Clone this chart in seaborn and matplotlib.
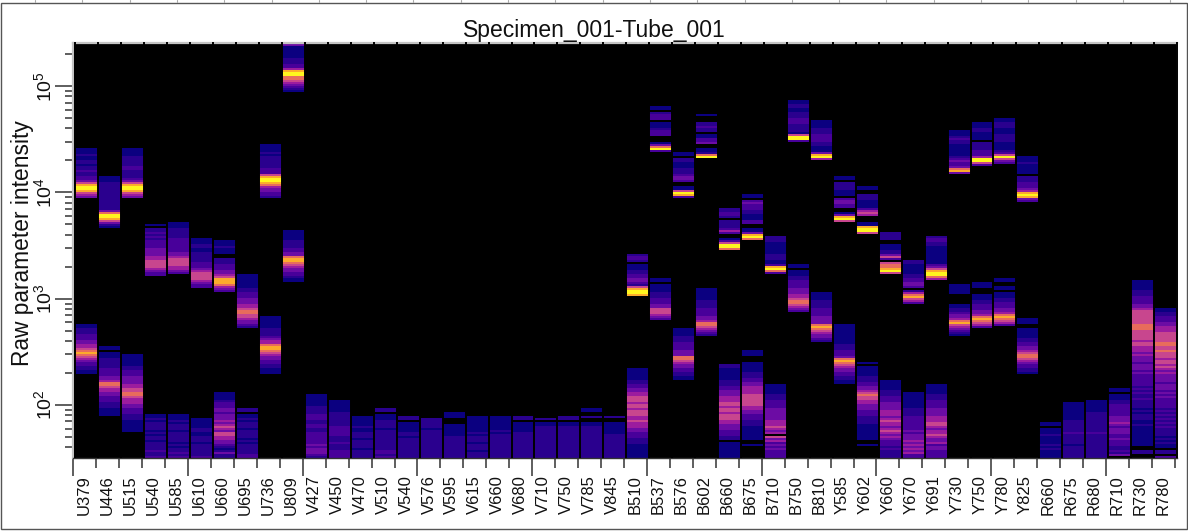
import numpy as np
import matplotlib
matplotlib.use("Agg")
import matplotlib.pyplot as plt
from matplotlib.colors import ListedColormap
from matplotlib.lines import Line2D
from matplotlib.patches import Rectangle
from matplotlib.transforms import ScaledTranslation
import seaborn as sns

TITLE = "Specimen_001-Tube_001"
Y_LABEL = "Raw parameter intensity"

CHANNELS = ["U379","U446","U515","U540","U585","U610","U660","U695","U736","U809",
            "V427","V450","V470","V510","V540","V576","V595","V615","V660","V680",
            "V710","V750","V785","V845",
            "B510","B537","B576","B602","B660","B675","B710","B750","B810",
            "Y585","Y602","Y660","Y670","Y691","Y730","Y750","Y780","Y825",
            "R660","R675","R680","R710","R730","R780"]

# Each channel: list of (top bin, density read per bin from top to bottom; 0 none ... 9 peak)
U_BANDS = [
    [(155,"1112112212232233468998654"),(67,"1122233344556787654332211")],
    [(141,"11122222222222222479986421"),(56,"11"),(53,"11122222333344577655443332221111")],
    [(155,"1111222223322223468998654"),(52,"111111223334444556677655544333222111111")],
    [(117,"1"),(115,"223232333344445566665433"),(22,"1121222212122122223223")],
    [(118,"11122222333333344566665543"),(22,"1112122212222212122323")],
    [(110,"1112211222223334566665433"),(20,"11111221122212222223")],
    [(109,"1112111"),(100,"22233344568887543"),(33,"111123334434445456546655443212422")],
    [(92,"111111122333444556776654432"),(25,"22"),(22,"1121222122221212222233")],
    [(157,"111121222222333689987544332"),(71,"11"),(69,"111122223455788765443322111")],
    [(207,"411111122233589977654321"),(114,"11111222233447887654433211")],
]
V_BANDS = [
    [(32,"1111112222333223322333333434443232")],
    [(29,"11111122222223333322232223333232")],
    [(21,"11111211222122221222222")],
    [(25,"22"),(22,"11122221222222222233233")],
    [(21,"22"),(18,"1111122122222222222")],
    [(20,"222"),(17,"22122222222222222")],
    [(23,"111"),(17,"11111122222222222")],
    [(21,"1111111121222122212222")],
    [(21,"1111111212222222222221")],
    [(21,"22"),(18,"1111122222222222221")],
    [(20,"2"),(18,"1122222222222222222")],
    [(21,"22"),(18,"1122222222222222223")],
    [(25,"11"),(21,"2"),(18,"11222222222222222223")],
    [(21,"2"),(18,"11111122222222222222")],
]
B_BANDS = [
    [(102,"233201112233443268998"),(45,"1111112233445566656656665565554433322211"),(5,"11111")],
    [(176,"11"),(173,"2333"),(168,"1112333"),(158,"14793"),(90,"11"),(87,"111122233344666543")],
    [(153,"11"),(150,"2211122"),(143,"23443"),(136,"116983"),(65,"11112223333444776544332211")],
    [(172,"1"),(168,"22322"),(162,"11334"),(155,"11279"),(85,"111111222233334457765432")],
    [(125,"22332"),(119,"2222353"),(110,"136997"),(47,"22"),(45,"111111222334445556656656665544433322 111"),(5,"11111")],
    [(132,"11"),(129,"343332211133"),(115,"114897"),(54,"111"),(48,"111112223344555566666655443332221111111"),(7,"1")],
    [(111,"222111111222"),(99,"1138973"),(37,"1111122233334444445556545 645343433332322")],
    [(179,"112211222333222216993"),(97,"11"),(94,"111223333444556776543")],
    [(169,"11112223333221114895"),(83,"1111222233334444787654432")],
]
Y_BANDS = [
    [(141,"11"),(138,"2222111"),(130,"34433"),(123,"14896"),(67,"111111111122233347876544332211")],
    [(136,"11"),(132,"2221111"),(125,"3565"),(118,"118996"),(48,"1"),(46,"1111122233445676655444333222211111111"),(7,"1")],
    [(113,"2222"),(107,"11122463"),(98,"677896"),(39,"1111122233344445554565545654543332322222")],
    [(99,"22111112233443"),(84,"2578653"),(33,"111111112222333333343444545454533322")],
    [(111,"2332211111111134689975"),(37,"11111222333344445556654556544534433332222")],
    [(164,"11123221111"),(153,"11234334784"),(87,"11111"),(77,"1122344578654321")],
    [(168,"111221111"),(158,"222233359963"),(88,"111"),(82,"11122333445787653")],
    [(170,"11222111222211112369643"),(90,"11"),(86,"11"),(83,"11122333445787653")],
    [(151,"111211111"),(141,"2223334589843"),(70,"111"),(65,"11111223344567765433221")],
]
R_BANDS = [
    [(18,"11"),(15,"111211112121111")],
    [(28,"11111111122222232222212222223")],
    [(29,"11111122222222223222222222222")],
    [(35,"11"),(32,"1112233333344454344433433322324")],
    [(89,"1111122"+"2333"+"3445"+"666666"+"67776"+"6666"+"566555"+"454443444343333"+"3323232232"+"22212122211211111"+"11111"),(4,"22")],
    [(75,"11223"+"3344555"+"6666677"+"66766"+"6566565"+"4544443444343433"+"3332323232323"+"2222121211"),(4,"22"),(1,"3")],
]
BANDS = U_BANDS + V_BANDS + B_BANDS + Y_BANDS + R_BANDS

DENSITY_COLORS = ["#000000","#0b0080","#2a008e","#48009a","#6c0ca4","#9c1c9e",
                  "#c8468e","#e86c5c","#fcab2c","#fff51e"]
MAJOR = [1e2, 1e3, 1e4, 1e5]
MINOR = [m * 10**e for e in (1, 2, 3, 4, 5) for m in range(2, 10)]
Y_TICKLABELS = [r"$\mathregular{10^{2}}$", r"$\mathregular{10^{3}}$",
                r"$\mathregular{10^{4}}$", r"$\mathregular{10^{5}}$"]

N_BINS = 208
W, H = 1188, 531


def intensity_to_bin(v):
    """Axis scale: 106.3 px per decade, 2 px per bin, 10^2 is 53 px above the floor."""
    return (53 + (np.log10(v) - 2) * 106.3) / 2


matrix = np.zeros((N_BINS, len(CHANNELS)))
for c, segments in enumerate(BANDS):
    for start, profile in segments:
        for k, ch in enumerate(profile):
            if ch == " ":
                continue
            row = start - 1 - k
            if 0 <= row < N_BINS:
                matrix[row, c] = int(ch)

sns.set_theme(style="ticks")
plt.rcParams["font.family"] = ["Liberation Sans", "DejaVu Sans"]
plt.rcParams["mathtext.fontset"] = "custom"
plt.rcParams["mathtext.rm"] = "Liberation Sans"

fig = plt.figure(figsize=(W / 100, H / 100), dpi=100, facecolor="white")
x_left, x_right, y_top, y_bottom = 73.2, 1177.1, 43, 458
ax = fig.add_axes([x_left / W, 1 - y_bottom / H, (x_right - x_left) / W, (y_bottom - y_top) / H])

sns.heatmap(matrix, ax=ax, cmap=ListedColormap(DENSITY_COLORS), vmin=-0.5, vmax=9.5,
            cbar=False, xticklabels=False, yticklabels=False)
n = len(CHANNELS)
ymax = (y_bottom - y_top) / 2
ax.set_xlim(-0.1, n)
ax.set_ylim(0, ymax)
ax.set_facecolor("black")

# Black separators between lanes, running through the top frame line
ax.vlines(np.arange(n + 1), 0, ymax + 0.5, color="black", lw=1.4, zorder=5, clip_on=False)

for s in ax.spines.values():
    s.set_visible(True)
ax.spines["top"].set_color("#c4c4c4"); ax.spines["top"].set_linewidth(1.6)
ax.spines["left"].set_color("#c4c4c4"); ax.spines["left"].set_linewidth(1.6)
ax.spines["right"].set_color("#c4c4c4"); ax.spines["right"].set_linewidth(1.2)
ax.spines["bottom"].set_color("#333333"); ax.spines["bottom"].set_linewidth(1.0)

# x: labels at lane centres, ticks at lane boundaries
ax.set_xticks(np.arange(n) + 0.4)
ax.set_xticklabels(CHANNELS, rotation=90, fontsize=12, color="#111111")
ax.tick_params(axis="x", which="major", length=0, bottom=True)
shift = ScaledTranslation(0, -12 / 100, fig.dpi_scale_trans)
for lab in ax.get_xticklabels():
    lab.set_transform(lab.get_transform() + shift)
ax.set_xticks(np.arange(n + 1) - 0.1, minor=True)
ax.tick_params(axis="x", which="minor", length=7.2, width=1.1, color="#333333", bottom=True)
for i, t in enumerate(ax.xaxis.get_minor_ticks()):
    if i % 5 == 0:
        t.tick1line.set_markersize(13)

# y: log decades on the bin axis
ax.set_yticks([intensity_to_bin(v) for v in MAJOR])
ax.set_yticklabels(Y_TICKLABELS, rotation=90, va="center", fontsize=14, color="#111111")
minor = [intensity_to_bin(v) for v in MINOR]
ax.set_yticks([b for b in minor if 0 < b < ymax], minor=True)
ax.tick_params(axis="y", which="major", length=13, width=1.1, color="#333333", pad=0, left=True)
ax.tick_params(axis="y", which="minor", length=6, width=1.1, color="#333333", left=True)

ax.set_ylabel(Y_LABEL, fontsize=16.4, color="#111111")
ax.yaxis.set_label_coords((34 - x_left) / (x_right - x_left), 0.518)
ax.set_title(TITLE, fontsize=16.5, color="#111111", x=(594 - x_left) / (x_right - x_left), pad=4)

# Outer window frame and the clipped ruler marks above it
fig.add_artist(Rectangle((1 / W, 1 - 529 / H), 1186 / W, 526 / H, transform=fig.transFigure,
                         fill=False, edgecolor="#555555", lw=1.0))
for px in np.arange(35, W, 47.3):
    fig.add_artist(Line2D([px / W, px / W], [1, 1 - 2 / H], transform=fig.transFigure,
                          color="#aaaaaa", lw=0.8))

fig.savefig("out.png", dpi=100, facecolor="white")
